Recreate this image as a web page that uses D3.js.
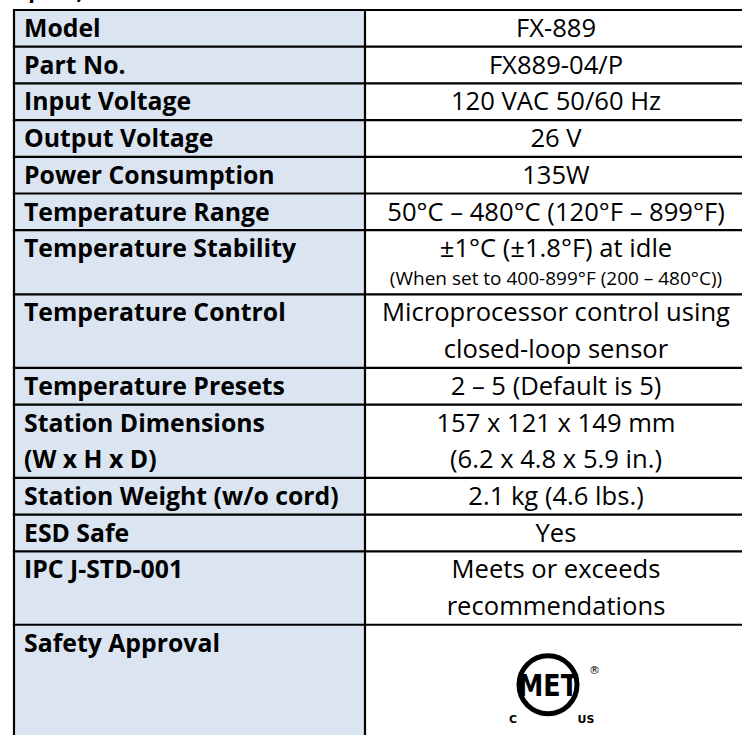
<!DOCTYPE html>
<html>
<head>
<meta charset="utf-8">
<script src="https://cdn.jsdelivr.net/npm/d3@7"></script>
<style>
body{margin:0;background:#fff;}
svg{display:block;}
.lab{font-family:"Open Sans",sans-serif;font-weight:700;fill:#000;}
.val{font-family:"Open Sans",sans-serif;font-weight:400;fill:#000;}
</style>
</head>
<body>
<script>
// table content, one entry per row
var labels = [["Model"],["Part No."],["Input Voltage"],["Output Voltage"],["Power Consumption"],
	["Temperature Range"],["Temperature Stability"],["Temperature Control"],["Temperature Presets"],
	["Station Dimensions","(W x H x D)"],["Station Weight (w/o cord)"],["ESD Safe"],["IPC J-STD-001"],["Safety Approval"]];
var values = [["FX-889"],["FX889-04/P"],["120 VAC 50/60 Hz"],["26 V"],["135W"],
	["50°C – 480°C (120°F – 899°F)"],["±1°C (±1.8°F) at idle"],["Microprocessor control using","closed-loop sensor"],
	["2 – 5 (Default is 5)"],["157 x 121 x 149 mm","(6.2 x 4.8 x 5.9 in.)"],["2.1 kg (4.6 lbs.)"],["Yes"],
	["Meets or exceeds","recommendations"],[]];
var notes = ["","","","","","","(When set to 400-899°F (200 – 480°C))","","","","","","",""];
var rowLines = [1,1,1,1,1,1,1.75,2,1,2,1,1,2,3.4];
var title = "Specifications";

var svgwidth = 742, svgheight = 735;
var lineH = 36.7, top0 = 10;
var xLeft = 14, xMid = 365, xRight = 747;

var svg = d3.select("body").append("svg")
	.attr("width", svgwidth)
	.attr("height", svgheight);

// row positions from cumulative line units
var cum = [0].concat(Array.from(d3.cumsum(rowLines)));
var y = d3.scaleLinear().domain([0, 1]).range([top0, top0 + lineH]);

// heading, mostly cut off by the top edge
svg.append("text")
	.attr("x", xLeft + 2).attr("y", -1)
	.style("font-family", "Lato,sans-serif").style("font-weight", 700).style("font-style", "italic")
	.style("font-size", "27px")
	.text(title);

var rows = svg.selectAll("g.row").data(labels).enter().append("g").attr("class", "row");

rows.append("rect")
	.attr("x", xLeft).attr("width", xMid - xLeft)
	.attr("y", function(d, i){ return y(cum[i]); })
	.attr("height", function(d, i){ return y(cum[i + 1]) - y(cum[i]); })
	.attr("fill", "#dbe5f1");

rows.each(function(d, i){
	var g = d3.select(this);
	var y0 = y(cum[i]);
	d.forEach(function(t, j){
		g.append("text").attr("class", "lab")
			.attr("x", 24).attr("y", y0 + 27 + j * lineH)
			.style("font-size", "24.8px").text(t);
	});
	values[i].forEach(function(t, j){
		g.append("text").attr("class", "val")
			.attr("x", (xMid + xRight) / 2).attr("y", y0 + 27 + j * lineH)
			.attr("text-anchor", "middle")
			.style("font-size", "25.6px").text(t);
	});
	if (notes[i]) {
		g.append("text").attr("class", "val")
			.attr("x", (xMid + xRight) / 2).attr("y", y0 + 54.5)
			.attr("text-anchor", "middle")
			.style("font-size", "19px").text(notes[i]);
	}
});

// grid lines
var lines = svg.append("g").attr("stroke", "#000").attr("stroke-width", 2.2);
lines.selectAll("line.h").data(cum).enter().append("line")
	.attr("x1", xLeft - 1.1).attr("x2", xRight)
	.attr("y1", function(d){ return y(d); }).attr("y2", function(d){ return y(d); });
[xLeft, xMid, xRight].forEach(function(x){
	lines.append("line").attr("x1", x).attr("x2", x)
		.attr("y1", top0).attr("y2", y(cum[cum.length - 1]));
});

// MET certification mark in the last row
var last = labels.length - 1;
var lg = svg.append("g")
	.attr("transform", "translate(" + 548 + "," + (y(cum[last]) + 60) + ")");
lg.append("circle").attr("r", 29).attr("fill", "none").attr("stroke", "#000").attr("stroke-width", 5);
lg.append("text").attr("text-anchor", "middle").attr("y", 11)
	.style("font-family", "'DejaVu Sans',sans-serif").style("font-weight", 700)
	.style("font-size", "30px").attr("textLength", 60).attr("lengthAdjust", "spacingAndGlyphs")
	.text("MET");
lg.append("text").attr("x", 41).attr("y", -11)
	.style("font-family", "'DejaVu Sans',sans-serif").style("font-size", "11px").text("®");
lg.append("text").attr("x", -35).attr("y", 38).attr("text-anchor", "middle")
	.style("font-family", "'DejaVu Sans',sans-serif").style("font-weight", 700).style("font-size", "11px").text("C");
lg.append("text").attr("x", 38).attr("y", 38).attr("text-anchor", "middle")
	.style("font-family", "'DejaVu Sans',sans-serif").style("font-weight", 700).style("font-size", "11px").text("US");
</script>
</body>
</html>
